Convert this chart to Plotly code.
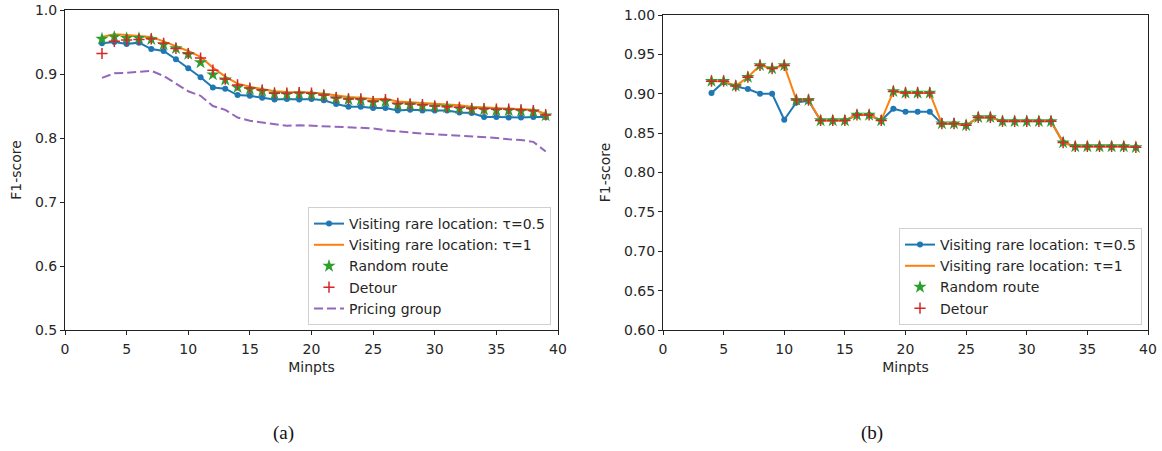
import plotly.graph_objects as go

# ---- (a) DBSCAN Minpts sweep, all anomaly types ----
minpts_a = list(range(3, 40))
rare_05_a = [0.948, 0.950, 0.947, 0.949, 0.939, 0.936, 0.923, 0.909, 0.895, 0.879,
             0.877, 0.867, 0.866, 0.863, 0.860, 0.861, 0.860, 0.861, 0.859, 0.853,
             0.849, 0.849, 0.847, 0.847, 0.843, 0.844, 0.843, 0.843, 0.843, 0.840,
             0.839, 0.833, 0.833, 0.832, 0.832, 0.833, 0.833]
rare_1_a = [0.958, 0.962, 0.961, 0.960, 0.958, 0.951, 0.944, 0.936, 0.927, 0.910,
            0.896, 0.885, 0.880, 0.877, 0.873, 0.872, 0.872, 0.871, 0.869, 0.866,
            0.864, 0.863, 0.861, 0.861, 0.857, 0.856, 0.855, 0.853, 0.852, 0.851,
            0.849, 0.848, 0.847, 0.847, 0.846, 0.844, 0.838]
random_a = [0.955, 0.958, 0.956, 0.956, 0.954, 0.946, 0.940, 0.931, 0.918, 0.899,
            0.891, 0.879, 0.876, 0.873, 0.869, 0.868, 0.869, 0.868, 0.866, 0.862,
            0.860, 0.859, 0.856, 0.857, 0.852, 0.852, 0.850, 0.849, 0.848, 0.846,
            0.845, 0.844, 0.843, 0.843, 0.842, 0.841, 0.835]
detour_a = [0.932, 0.951, 0.953, 0.954, 0.955, 0.948, 0.940, 0.932, 0.925, 0.906,
            0.892, 0.883, 0.878, 0.875, 0.870, 0.870, 0.871, 0.870, 0.867, 0.863,
            0.861, 0.861, 0.857, 0.860, 0.854, 0.853, 0.852, 0.850, 0.849, 0.848,
            0.846, 0.846, 0.845, 0.845, 0.844, 0.843, 0.836]
pricing_a = [0.894, 0.901, 0.902, 0.904, 0.905, 0.897, 0.885, 0.873, 0.866, 0.850,
             0.844, 0.832, 0.827, 0.824, 0.821, 0.819, 0.820, 0.819, 0.818, 0.817,
             0.816, 0.815, 0.815, 0.812, 0.810, 0.809, 0.807, 0.806, 0.805, 0.804,
             0.803, 0.802, 0.800, 0.798, 0.797, 0.794, 0.779]

# ---- (b) Minpts sweep without the pricing group ----
minpts_b = list(range(4, 40))
rare_05_b = [0.901, 0.915, 0.909, 0.906, 0.900, 0.900, 0.867, 0.889, 0.891, 0.866,
             0.866, 0.866, 0.873, 0.873, 0.866, 0.881, 0.877, 0.877, 0.877, 0.862,
             0.862, 0.860, 0.870, 0.870, 0.865, 0.865, 0.865, 0.865, 0.865, 0.838,
             0.833, 0.833, 0.833, 0.833, 0.833, 0.832]
rare_1_b = [0.916, 0.916, 0.910, 0.921, 0.936, 0.932, 0.936, 0.892, 0.892, 0.866,
            0.866, 0.866, 0.873, 0.873, 0.866, 0.903, 0.901, 0.901, 0.901, 0.862,
            0.862, 0.860, 0.870, 0.870, 0.865, 0.865, 0.865, 0.865, 0.865, 0.838,
            0.833, 0.833, 0.833, 0.833, 0.833, 0.832]
random_b = list(rare_1_b)
detour_b = list(rare_1_b)

x_ticks = [0, 5, 10, 15, 20, 25, 30, 35, 40]
names = ["Visiting rare location: τ=0.5", "Visiting rare location: τ=1",
         "Random route", "Detour", "Pricing group"]

BLUE, ORANGE, GREEN, RED, PURPLE = "#1f77b4", "#ff7f0e", "#2ca02c", "#d62728", "#9467bd"
W, H = 1162, 451
FONT = "DejaVu Sans"
TXT = "#262626"

fig = go.Figure()


def add_panel(x, s05, s1, rnd, det, pricing, xa, ya, legend):
    fig.add_trace(go.Scatter(x=x, y=s05, name=names[0], mode="lines+markers",
                             line=dict(color=BLUE, width=2),
                             marker=dict(color=BLUE, size=6, symbol="circle"),
                             xaxis=xa, yaxis=ya, legend=legend))
    fig.add_trace(go.Scatter(x=x, y=s1, name=names[1], mode="lines",
                             line=dict(color=ORANGE, width=2),
                             xaxis=xa, yaxis=ya, legend=legend))
    fig.add_trace(go.Scatter(x=x, y=rnd, name=names[2], mode="markers",
                             marker=dict(color=GREEN, size=10, symbol="star",
                                         line=dict(width=0)),
                             xaxis=xa, yaxis=ya, legend=legend))
    fig.add_trace(go.Scatter(x=x, y=det, name=names[3], mode="markers",
                             marker=dict(color=RED, size=8, symbol="cross-thin",
                                         line=dict(color=RED, width=1.5)),
                             xaxis=xa, yaxis=ya, legend=legend))
    if pricing is not None:
        fig.add_trace(go.Scatter(x=x, y=pricing, name=names[4], mode="lines",
                                 line=dict(color=PURPLE, width=2, dash="9px,4px"),
                                 xaxis=xa, yaxis=ya, legend=legend))


add_panel(minpts_a, rare_05_a, rare_1_a, random_a, detour_a, pricing_a, "x", "y", "legend")
add_panel(minpts_b, rare_05_b, rare_1_b, random_b, detour_b, None, "x2", "y2", "legend2")

axis_common = dict(showline=True, linecolor="#222", linewidth=1, mirror=True,
                   ticks="outside", ticklen=4, tickcolor="#222", showgrid=False,
                   zeroline=False, automargin=False,
                   tickfont=dict(family=FONT, size=14, color=TXT),
                   title_font=dict(family=FONT, size=14, color=TXT))

legend_common = dict(font=dict(family=FONT, size=14, color=TXT), bgcolor="rgba(255,255,255,0.85)",
                     bordercolor="#d0d0d0", borderwidth=1, xanchor="right", yanchor="bottom",
                     itemwidth=30, tracegroupgap=0)

fig.update_layout(
    width=W, height=H, margin=dict(l=0, r=0, t=0, b=0),
    paper_bgcolor="white", plot_bgcolor="white",
    xaxis=dict(domain=[65 / W, 558 / W], range=[0, 40], tickvals=x_ticks, ticklabelstandoff=2,
               anchor="y", title=dict(text="Minpts", standoff=6), **axis_common),
    yaxis=dict(domain=[1 - 330 / H, 1 - 10 / H], range=[0.5, 1.0], dtick=0.1,
               tickformat=".1f", anchor="x", title=dict(text="F1-score", standoff=10),
               **axis_common),
    xaxis2=dict(domain=[663 / W, 1148 / W], range=[0, 40], tickvals=x_ticks, ticklabelstandoff=2,
                anchor="y2", title=dict(text="Minpts", standoff=6), **axis_common),
    yaxis2=dict(domain=[1 - 330 / H, 1 - 15 / H], range=[0.6, 1.0], dtick=0.05,
                tickformat=".2f", anchor="x2", title=dict(text="F1-score", standoff=10),
                **axis_common),
    legend=dict(x=551 / W, y=1 - 325 / H, **legend_common),
    legend2=dict(x=1142 / W, y=1 - 325 / H, **legend_common),
    showlegend=True,
)

for label, cx in (("(a)", 283), ("(b)", 872)):
    fig.add_annotation(text=label, x=cx / W, y=1 - 433 / H, xref="paper", yref="paper",
                       showarrow=False, xanchor="center", yanchor="middle",
                       font=dict(family="Liberation Serif", size=19, color="#111"))

fig.write_html("out.html")
